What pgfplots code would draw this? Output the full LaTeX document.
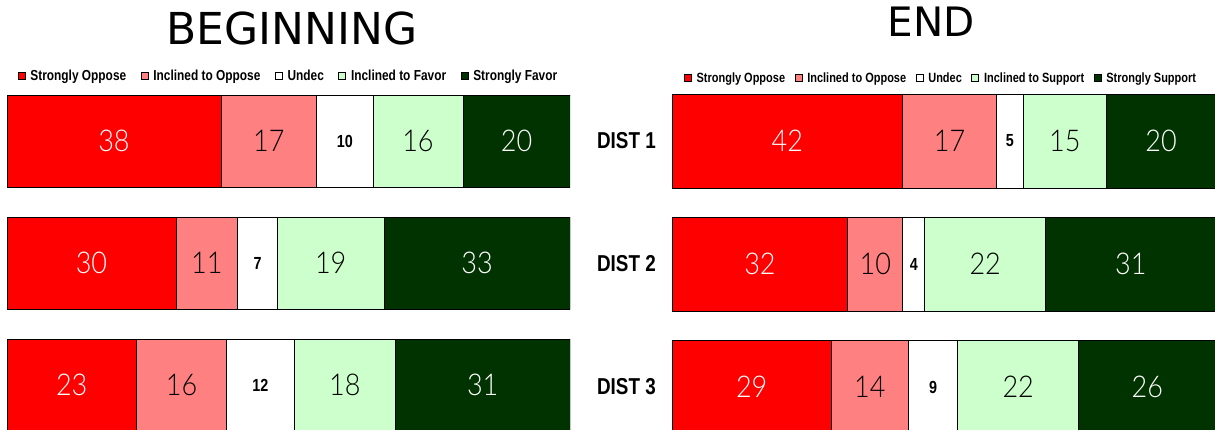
\documentclass[border=0pt]{standalone}
\usepackage{pgfplots}
\pgfplotsset{compat=1.18}
\usepackage{fontspec}
\setmainfont{Liberation Sans}
\newfontfamily\legfont[FakeStretch=0.82]{Liberation Sans}
\newfontfamily\numfont[FakeStretch=0.9, UprightFont={* Light}]{Lato}
\newfontfamily\titlefont{DejaVu Sans}
\definecolor{sopp}{HTML}{FF0000}
\definecolor{iopp}{HTML}{FF8080}
\definecolor{undec}{HTML}{FFFFFF}
\definecolor{ifav}{HTML}{CCFFCC}
\definecolor{sfav}{HTML}{003300}
\pgfplotsset{
  base/.style={scale only axis, xmin=0, ymin=0.5, ymax=3.5, y dir=reverse,
    axis line style={draw=none}, tick style={draw=none}, xtick=\empty, ytick=\empty,
    anchor=south west},
  Lgeom/.style={base, at={(7pt,-17pt)}, width=563pt, height=366pt, xmax=100},
  Rgeom/.style={base, at={(672pt,-19.5pt)}, width=544pt, height=369pt, xmax=99},
  seg/.style={fill=#1, draw=black, line width=0.7pt},
  bignum/.style={draw=none, nodes near coords, point meta=explicit symbolic,
    nodes near coords align={anchor=center},
    every node near coord/.append style={font=\numfont\fontsize{30}{30}\selectfont, text=#1}},
  smallnum/.style={draw=none, nodes near coords, point meta=explicit symbolic,
    nodes near coords align={anchor=center},
    every node near coord/.append style={font=\legfont\bfseries\fontsize{17.5}{17.5}\selectfont, text=black}},
}
\begin{document}
\begin{tikzpicture}
\useasboundingbox (0pt,0pt) rectangle (1215pt,429pt);
\clip (0pt,0pt) rectangle (1215pt,429pt);
\node[font=\titlefont\fontsize{44}{44}\selectfont, inner sep=0pt] at (292pt,401pt) {BEGINNING};
\node[font=\titlefont\fontsize{40.5}{40.5}\selectfont, inner sep=0pt] at (931.5pt,407pt) {END};
% ---------- left: beginning ----------
\begin{axis}[Lgeom, xbar stacked, bar width=92pt,
  legend columns=5,
  legend image code/.code={\draw[#1, draw=black, line width=0.6pt] (0pt,-3.5pt) rectangle (7pt,3.5pt);\path (10pt,0pt);},
  legend style={draw=none, fill=none, at={(axis description cs:0.5,1.011)}, anchor=center,
    font=\legfont\bfseries\fontsize{14.5}{16}\selectfont,
    nodes={inner xsep=2pt, inner ysep=1pt},
    /tikz/every even column/.append style={column sep=12.5pt}}]
\addplot[seg=sopp] coordinates {(38,1) (30,2) (23,3)};
\addplot[seg=iopp] coordinates {(17,1) (11,2) (16,3)};
\addplot[seg=undec] coordinates {(10,1) (7,2) (12,3)};
\addplot[seg=ifav] coordinates {(16,1) (19,2) (18,3)};
\addplot[seg=sfav] coordinates {(20,1) (33,2) (31,3)};
\legend{Strongly Oppose, Inclined to Oppose, Undec, Inclined to Favor, Strongly Favor}
\end{axis}
\begin{axis}[Lgeom]
\addplot[bignum=white] coordinates {(19,1)[38] (90.5,1)[20] (15,2)[30] (83.5,2)[33] (11.5,3)[23] (84.5,3)[31]};
\addplot[bignum=black] coordinates {(46.5,1)[17] (73,1)[16] (35.5,2)[11] (57.5,2)[19] (31,3)[16] (60,3)[18]};
\addplot[smallnum] coordinates {(60,1)[10] (44.5,2)[7] (45,3)[12]};
\end{axis}
% ---------- right: end ----------
\begin{axis}[Rgeom, xbar stacked, bar width=94pt,
  ytick={1,2,3}, yticklabels={DIST 1, DIST 2, DIST 3},
  yticklabel style={font=\legfont\bfseries\fontsize{23}{25}\selectfont, inner sep=0pt, anchor=east, xshift=-16pt},
  legend columns=5,
  legend image code/.code={\draw[#1, draw=black, line width=0.6pt] (0pt,-3.5pt) rectangle (7pt,3.5pt);\path (10pt,0pt);},
  legend style={draw=none, fill=none, at={(axis description cs:0.4945,1.004)}, anchor=center,
    font=\legfont\bfseries\fontsize{13.4}{15}\selectfont,
    nodes={inner xsep=2pt, inner ysep=1pt},
    /tikz/every even column/.append style={column sep=7.5pt}}]
\addplot[seg=sopp] coordinates {(42,1) (32,2) (29,3)};
\addplot[seg=iopp] coordinates {(17,1) (10,2) (14,3)};
\addplot[seg=undec] coordinates {(5,1) (4,2) (9,3)};
\addplot[seg=ifav] coordinates {(15,1) (22,2) (22,3)};
\addplot[seg=sfav] coordinates {(20,1) (31,2) (26,3)};
\legend{Strongly Oppose, Inclined to Oppose, Undec, Inclined to Support, Strongly Support}
\end{axis}
\begin{axis}[Rgeom]
\addplot[bignum=white] coordinates {(21,1)[42] (89,1)[20] (16,2)[32] (83.5,2)[31] (14.5,3)[29] (86.5,3)[26]};
\addplot[bignum=black] coordinates {(50.5,1)[17] (71.5,1)[15] (37,2)[10] (57,2)[22] (36,3)[14] (63,3)[22]};
\addplot[smallnum] coordinates {(61.5,1)[5] (44,2)[4] (47.5,3)[9]};
\end{axis}
\end{tikzpicture}
\end{document}
